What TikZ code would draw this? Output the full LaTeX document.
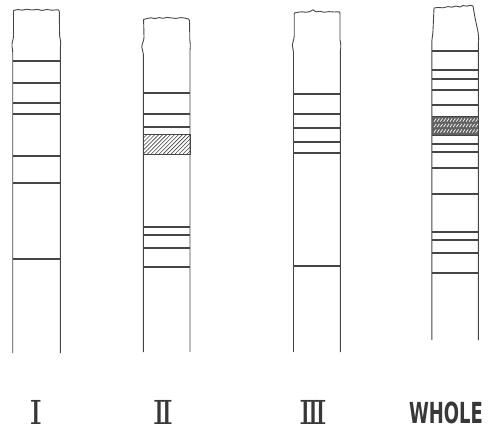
\documentclass[tikz,border=0pt]{standalone}
\usepackage{fontspec}
\usepackage{graphicx}
\newfontfamily\dvs{DejaVu Sans}
\newfontfamily\dvserif{DejaVu Serif}
\usetikzlibrary{patterns.meta}
\definecolor{ink}{gray}{0.27}
\definecolor{labink}{gray}{0.22}
\tikzset{
  tubeline/.style={draw=ink, line width=0.9pt, line join=round},
  bandline/.style={draw=ink, line width=1.6pt},
  hatchbox/.style={draw=ink, line width=1pt, pattern={Lines[angle=45,distance=2.8pt,line width=0.6pt]}, pattern color=ink},
  lab/.style={text=labink, inner sep=0pt, font=\dvserif\fontsize{33}{33}\selectfont},
  wlab/.style={text=labink, inner sep=0pt, font=\dvs\bfseries\fontsize{29}{29}\selectfont},
}
\begin{document}
\begin{tikzpicture}[x=1pt,y=-1pt]
\useasboundingbox (0,0) rectangle (492,432);
% ---------- Tube I ----------
\draw[tubeline] (12.7,353) -- (12.7,52) .. controls (12.7,50) and (12.2,48) .. (12,46)
  .. controls (11.6,42) and (13.5,40) .. (13.5,36) -- (13.5,10.5)
  -- (18,9.5) -- (22,10.2) -- (27,9.2) -- (32,10) -- (37,9.4) -- (42,10.4) -- (47,9.5) -- (52,10.2) -- (57.5,9.8)
  .. controls (59,10) .. (59.3,12) -- (59.6,36) .. controls (60.5,40) and (61,43) .. (60.4,47) -- (60.4,353);
\foreach \y in {61,83,103,114,156,183,259}
  \draw[bandline] (12.7,\y) -- (60.4,\y);
% ---------- Tube II ----------
\draw[tubeline] (143.3,352) -- (143.3,54) .. controls (143.3,52) and (142,50) .. (141.8,47)
  .. controls (142,43) and (144,41) .. (144,37) -- (143.6,19.5)
  -- (147,18.5) -- (151,17.8) -- (155,18.6) -- (159,17.6) -- (163,18.3) -- (167,17.4) -- (171,17.9) -- (176,18.4) -- (181,17.6) -- (186,18.3) -- (188.5,19)
  .. controls (189.5,20) .. (189.6,24) -- (189.8,40) .. controls (190.5,44) and (190.3,48) .. (190,50) -- (190,352);
\foreach \y in {93,114,127,227,235,248,267}
  \draw[bandline] (143.3,\y) -- (190,\y);
\draw[hatchbox] (143.3,134) rectangle (190,154);
% ---------- Tube III ----------
\draw[tubeline] (293.5,352) -- (293.5,52) .. controls (293.5,50) and (292.4,48) .. (292.3,45)
  .. controls (292.4,42) and (294.2,40) .. (294.2,36) -- (294.3,13)
  -- (298,12.2) -- (302,11.8) -- (306,12.3) -- (310,11.5) -- (313,9.8) -- (316,11.8) -- (320,11.2) -- (324,12.3) -- (329,11.6) -- (334,12) -- (339,11.8)
  .. controls (340,12.5) .. (340,15) -- (340,40) .. controls (341,44) and (341,48) .. (340.3,51) -- (340.3,352);
\foreach \y in {94,114,128,142,153,266}
  \draw[bandline] (293.5,\y) -- (340.3,\y);
% ---------- Tube WHOLE ----------
\draw[tubeline] (431.8,340) -- (431.8,42) .. controls (432,38) and (433,34) .. (433,30) -- (434,8)
  -- (438,7.5) -- (443,7.8) -- (448,6.6) -- (452,7.2) -- (456,6) -- (460,7) -- (463,5.6) -- (467,6.2) -- (470,5.2) -- (473,6)
  -- (474,12) .. controls (476,24) and (478.5,32) .. (478.5,36) .. controls (478.8,40) and (478.3,42) .. (478.3,45) -- (478.3,340);
\foreach \y in {51,70,79,90,105,144,152,168,194,232,240,253,273}
  \draw[bandline] (431.8,\y) -- (478.3,\y);
\fill[black!62] (431.8,116.5) rectangle (478.3,135.5);
\foreach \r in {120,125.5,131}
  \foreach \x in {434,437.2,...,476}
    \draw[white, line width=0.7pt] (\x,\r+1.6) -- (\x+2.2,\r-1.6);
\draw[ink, line width=0.9pt] (431.8,116.5) -- (478.3,116.5) (431.8,135.5) -- (478.3,135.5);
% ---------- Labels ----------
\node[lab] (l1) at (36,412) {I};
\node[lab] (l2) at (163,412) {I\kern-5.5pt I};
\node[lab] (l3) at (313,412) {I\kern-5.5pt I\kern-5.5pt I};
\node[wlab] (l4) at (446,413) {\scalebox{0.62}[1]{WHOLE}};
\end{tikzpicture}
\end{document}
